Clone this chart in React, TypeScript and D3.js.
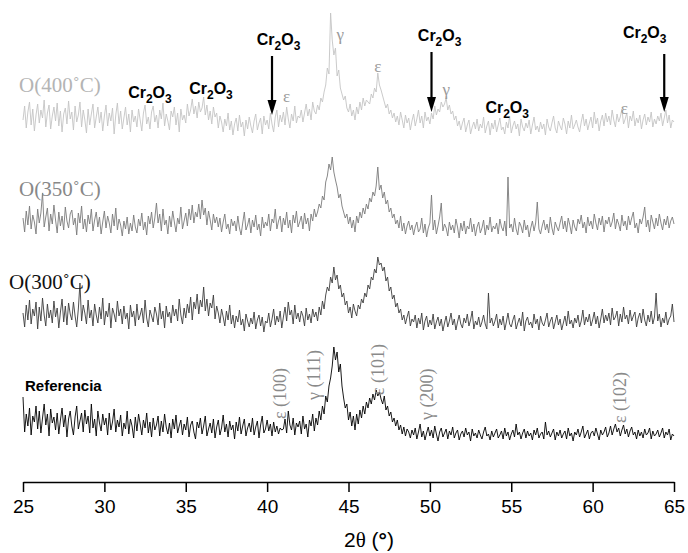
import { useEffect, useRef } from "react";
import * as d3 from "d3";

const W = 688;
const H = 553;

// 2θ grid: 25° .. 65°, 0.1° step (401 points), one row per degree
const THETA_START = 25;
const THETA_STEP = 0.1;

// intensities (a.u.)
const REFERENCIA = [
  47, 12, 30, 18, 36, 9, 28, 22, 38, 15,
  33, 11, 26, 40, 19, 30, 8, 35, 21, 27,
  14, 31, 10, 24, 36, 17, 29, 7, 25, 33,
  18, 9, 27, 38, 15, 23, 31, 12, 34, 20,
  28, 11, 40, 16, 25, 8, 33, 21, 13, 30,
  19, 26, 9, 31, 14, 22, 35, 12, 24, 17,
  29, 8, 21, 15, 33, 10, 25, 18, 6, 27,
  13, 30, 20, 9, 24, 16, 31, 11, 22, 7,
  26, 14, 19, 28, 8, 23, 12, 30, 17, 10,
  21, 6, 25, 15, 29, 11, 18, 24, 9, 20,
  14, 27, 7, 19, 23, 12, 5, 22, 16, 26,
  10, 18, 28, 8, 15, 21, 11, 25, 6, 17,
  24, 9, 16, 29, 12, 20, 7, 23, 14, 19,
  5, 22, 13, 27, 10, 18, 25, 8, 16, 21,
  12, 26, 9, 17, 23, 6, 19, 28, 11, 15,
  24, 13, 20, 8, 22, 12, 18, 10, 16, 14,
  15, 25, 11, 33, 19, 14, 26, 9, 21, 17,
  23, 10, 28, 15, 20, 7, 24, 18, 30, 13,
  26, 19, 33, 24, 38, 30, 48, 42, 58, 66,
  78, 97, 84, 92, 72, 80, 58, 46, 36, 40,
  24, 32, 18, 28, 14, 30, 20, 34, 26, 38,
  30, 42, 36, 46, 40, 50, 44, 54, 48, 52,
  45, 40, 48, 34, 38, 28, 32, 22, 26, 18,
  24, 14, 19, 10, 17, 8, 15, 12, 6, 14,
  9, 16, 5, 12, 20, 7, 13, 4, 11, 17,
  8, 14, 6, 18, 10, 3, 12, 16, 7, 11,
  15, 5, 13, 9, 17, 6, 11, 14, 4, 10,
  13, 7, 16, 9, 12, 3, 15, 8, 11, 6,
  14, 9, 5, 12, 17, 8, 10, 4, 13, 7,
  11, 15, 6, 9, 13, 5, 16, 8, 12, 4,
  10, 14, 7, 20, 9, 12, 5, 11, 15, 6,
  13, 8, 11, 4, 14, 9, 16, 6, 10, 12,
  5, 22, 9, 13, 7, 11, 15, 4, 12, 8,
  14, 6, 10, 13, 5, 16, 8, 11, 3, 12,
  9, 15, 7, 12, 18, 6, 10, 14, 5, 11,
  13, 8, 16, 10, 4, 14, 9, 12, 17, 7,
  11, 18, 9, 15, 20, 12, 16, 8, 14, 19,
  10, 15, 7, 13, 17, 9, 12, 5, 14, 8,
  12, 6, 15, 9, 11, 16, 5, 13, 8, 10,
  14, 7, 11, 16, 6, 12, 9, 15, 4, 10,
  8,
];

const O300 = [
  22, 8, 30, 15, 35, 11, 26, 19, 33, 6,
  28, 14, 37, 20, 9, 31, 17, 25, 12, 34,
  18, 27, 7, 23, 36, 13, 29, 10, 32, 21,
  15, 33, 19, 8, 26, 52, 14, 30, 22, 11,
  35, 17, 25, 9, 31, 20, 12, 28, 16, 37,
  10, 24, 18, 32, 7, 27, 21, 13, 34, 19,
  26, 11, 29, 16, 22, 6, 30, 18, 24, 9,
  31, 15, 20, 27, 12, 35, 17, 8, 25, 19,
  13, 28, 21, 10, 32, 16, 24, 7, 29, 18,
  23, 12, 30, 19, 26, 14, 36, 20, 11, 27,
  17, 31, 22, 38, 15, 33, 26, 41, 21, 35,
  28, 48, 24, 36, 19, 32, 27, 40, 16, 29,
  22, 12, 26, 18, 9, 24, 15, 30, 11, 20,
  7, 19, 13, 25, 10, 16, 4, 21, 14, 8,
  17, 11, 23, 6, 15, 20, 9, 18, 3, 14,
  12, 22, 8, 16, 26, 10, 19, 13, 24, 7,
  18, 28, 14, 33, 20, 25, 11, 30, 16, 22,
  13, 24, 19, 9, 27, 15, 21, 12, 26, 18,
  23, 14, 28, 20, 34, 26, 40, 48, 44, 58,
  52, 68, 55, 60, 46, 50, 38, 42, 30, 34,
  22, 28, 17, 31, 24, 19, 30, 26, 36, 32,
  42, 38, 50, 46, 58, 55, 66, 62, 78, 70,
  72, 64, 68, 54, 58, 44, 48, 36, 40, 28,
  32, 22, 26, 15, 20, 11, 18, 24, 9, 16,
  13, 20, 7, 17, 11, 22, 5, 14, 19, 8,
  15, 10, 21, 6, 13, 18, 9, 16, 4, 12,
  19, 8, 14, 22, 10, 16, 5, 13, 20, 11,
  7, 17, 12, 21, 9, 15, 24, 6, 14, 10,
  18, 8, 13, 20, 11, 6, 42, 12, 17, 9,
  14, 21, 7, 16, 10, 19, 5, 13, 22, 11,
  8, 15, 20, 6, 12, 17, 9, 23, 4, 14,
  18, 10, 13, 7, 21, 11, 16, 5, 19, 12,
  9, 15, 22, 8, 14, 18, 6, 13, 20, 10,
  16, 5, 12, 19, 9, 24, 11, 15, 7, 17,
  12, 20, 8, 14, 25, 10, 18, 13, 21, 9,
  15, 23, 11, 19, 7, 16, 26, 12, 20, 14,
  22, 10, 27, 15, 18, 24, 9, 21, 13, 28,
  16, 20, 11, 25, 14, 19, 23, 8, 17, 22,
  12, 26, 15, 9, 20, 13, 24, 11, 18, 42,
  14, 21, 8, 17, 12, 23, 10, 16, 19, 31,
  13,
];

const O350 = [
  24, 10, 31, 17, 36, 13, 27, 20, 8, 33,
  19, 29, 49, 15, 25, 34, 11, 28, 18, 37,
  22, 9, 30, 16, 26, 12, 35, 21, 14, 28,
  32, 17, 24, 7, 29, 19, 36, 13, 23, 10,
  27, 18, 33, 11, 22, 30, 15, 25, 8, 20,
  31, 14, 26, 19, 9, 28, 16, 34, 12, 23,
  17, 6, 21, 13, 25, 8, 19, 11, 27, 15,
  9, 23, 16, 29, 12, 20, 7, 26, 18, 30,
  14, 24, 39, 19, 28, 11, 33, 17, 22, 8,
  26, 15, 31, 20, 10, 24, 18, 35, 13, 21,
  29, 16, 33, 22, 37, 19, 30, 25, 38, 23,
  42, 27, 34, 17, 31, 22, 12, 28, 19, 25,
  15, 24, 10, 20, 28, 13, 18, 8, 23, 16,
  21, 11, 26, 14, 7, 19, 30, 12, 17, 24,
  9, 22, 15, 27, 12, 18, 6, 25, 14, 20,
  16, 28, 11, 23, 19, 33, 13, 21, 26, 10,
  24, 17, 30, 14, 22, 9, 27, 19, 31, 15,
  20, 26, 13, 29, 18, 24, 11, 28, 21, 33,
  25, 30, 38, 34, 46, 42, 60, 66, 78, 72,
  85, 70, 62, 55, 44, 48, 36, 30, 24, 28,
  18, 25, 14, 22, 10, 26, 19, 30, 24, 34,
  28, 38, 33, 44, 40, 50, 46, 56, 75, 52,
  57, 44, 50, 38, 42, 30, 34, 24, 28, 18,
  22, 14, 26, 11, 19, 8, 16, 21, 12, 17,
  7, 15, 20, 10, 13, 24, 9, 18, 5, 14,
  19, 47, 12, 22, 8, 16, 25, 39, 11, 18,
  14, 6, 20, 12, 17, 9, 23, 15, 4, 19,
  11, 21, 8, 16, 13, 24, 10, 18, 6, 15,
  20, 9, 14, 22, 7, 17, 12, 25, 10, 16,
  13, 19, 8, 23, 15, 11, 21, 6, 65, 14,
  18, 10, 24, 13, 7, 20, 16, 9, 22, 12,
  17, 5, 14, 21, 11, 19, 40, 13, 8, 16,
  22, 12, 18, 9, 25, 14, 7, 20, 15, 11,
  19, 26, 13, 21, 10, 24, 17, 8, 22, 15,
  11, 23, 18, 27, 14, 20, 9, 25, 16, 21,
  13, 28, 19, 12, 24, 17, 26, 10, 22, 18,
  25, 15, 20, 29, 13, 23, 18, 11, 27, 16,
  21, 12, 26, 17, 24, 30, 14, 19, 9, 23,
  18, 25, 35, 15, 22, 10, 27, 20, 13, 24,
  16, 28, 19, 12, 23, 17, 26, 14, 21, 25,
  18,
];

const O400 = [
  20, 34, 12, 28, 38, 15, 31, 9, 25, 36,
  17, 30, 22, 40, 13, 27, 35, 11, 24, 33,
  19, 37, 14, 29, 8, 26, 32, 16, 39, 21,
  28, 10, 34, 18, 25, 38, 13, 30, 20, 7,
  31, 15, 26, 36, 12, 23, 33, 17, 28, 9,
  24, 35, 14, 27, 19, 32, 6, 25, 37, 16,
  29, 11, 22, 33, 15, 26, 8, 30, 18, 24,
  13, 31, 20, 9, 27, 35, 16, 23, 11, 28,
  34, 18, 25, 12, 30, 21, 37, 14, 26, 19,
  10, 29, 23, 33, 15, 27, 8, 31, 20, 25,
  17, 36, 24, 30, 41, 26, 34, 22, 38, 28,
  32, 43, 25, 35, 20, 29, 16, 33, 23, 27,
  12, 24, 18, 8, 21, 14, 27, 10, 19, 5,
  16, 22, 9, 25, 13, 18, 4, 20, 11, 23,
  14, 7, 19, 26, 10, 17, 22, 6, 24, 15,
  20, 11, 27, 16, 8, 23, 30, 13, 25, 18,
  28, 15, 33, 21, 12, 26, 19, 34, 17, 24,
  22, 30, 18, 27, 36, 24, 31, 20, 38, 29,
  26, 35, 30, 42, 38, 48, 55, 72, 66, 127,
  100, 85, 92, 64, 70, 52, 46, 40, 44, 32,
  28, 36, 24, 30, 20, 33, 26, 38, 30, 42,
  34, 40, 38, 36, 46, 42, 52, 48, 67, 55,
  50, 44, 38, 32, 36, 26, 30, 22, 27, 18,
  24, 15, 28, 20, 12, 25, 17, 22, 10, 19,
  26, 14, 21, 30, 17, 24, 12, 28, 19, 23,
  16, 27, 21, 34, 25, 31, 28, 38, 33, 36,
  42, 30, 35, 26, 29, 20, 24, 14, 19, 10,
  17, 22, 8, 15, 20, 6, 13, 18, 11, 21,
  9, 16, 12, 23, 7, 14, 19, 5, 17, 11,
  20, 8, 15, 22, 10, 13, 6, 18, 12, 24,
  7, 14, 19, 11, 16, 4, 21, 13, 9, 17,
  12, 20, 6, 15, 23, 10, 14, 8, 18, 11,
  16, 5, 21, 13, 9, 17, 24, 12, 7, 19,
  14, 10, 22, 16, 6, 19, 12, 25, 11, 15,
  20, 13, 8, 18, 26, 14, 21, 10, 17, 23,
  12, 28, 16, 22, 9, 19, 25, 14, 27, 18,
  24, 15, 30, 20, 13, 26, 18, 23, 31, 16,
  21, 27, 12, 24, 19, 29, 14, 22, 17, 25,
  11, 20, 26, 15, 23, 18, 28, 13, 21, 16,
  24, 19, 27, 14, 22, 30, 17, 25, 12, 20,
  18,
];

// stacking offsets (a.u.) for each pattern
const SERIES = [
  { name: "Referencia", values: REFERENCIA, offset: 38, color: "#000000" },
  { name: "O(300˚C)", values: O300, offset: 147, color: "#3c3c3c" },
  { name: "O(350˚C)", values: O350, offset: 240, color: "#7a7a7a" },
  { name: "O(400˚C)", values: O400, offset: 342, color: "#c4c4c4" },
];

const MAJOR_TICKS = [25, 30, 35, 40, 45, 50, 55, 60, 65];
const MINOR_TICKS = [27.5, 32.5, 37.5, 42.5, 47.5, 52.5, 57.5, 62.5];

// Cr2O3 labels on the top pattern: 2θ of label centre, baseline y
const CR_LABELS = [
  { t: 32.8, y: 98 },
  { t: 36.55, y: 94 },
  { t: 40.7, y: 45 },
  { t: 50.6, y: 41 },
  { t: 54.75, y: 113 },
  { t: 63.2, y: 38 },
];
const CR_ARROWS = [
  { t: 40.3, y1: 56, y2: 115 },
  { t: 50.1, y1: 52, y2: 112 },
  { t: 64.4, y1: 54, y2: 112 },
];
const PHASE_MARKS = [
  { t: 44.5, y: 40, label: "γ" },
  { t: 41.2, y: 102, label: "ε" },
  { t: 46.8, y: 72, label: "ε" },
  { t: 51.0, y: 95, label: "γ" },
  { t: 61.95, y: 114, label: "ε" },
];
const HKL_MARKS = [
  { t: 40.8, bottom: 419, label: "ε (100)" },
  { t: 42.85, bottom: 400, label: "γ (111)" },
  { t: 46.8, bottom: 395, label: "ε (101)" },
  { t: 49.85, bottom: 420, label: "γ (200)" },
  { t: 61.7, bottom: 423, label: "ε (102)" },
];
const SAMPLE_LABELS = [
  { text: "O(400˚C)", x: 19, y: 92, color: "#b4b4b4", serif: true },
  { text: "O(350˚C)", x: 19, y: 196, color: "#888888", serif: true },
  { text: "O(300˚C)", x: 9, y: 289, color: "#111111", serif: true },
  { text: "Referencia", x: 25, y: 391, color: "#000000", serif: false },
];

const SANS = "'Liberation Sans', Arial, sans-serif";
const SERIF = "'Liberation Serif', 'Times New Roman', serif";

export default function App() {
  const svgRef = useRef<SVGSVGElement | null>(null);

  useEffect(() => {
    if (!svgRef.current) return;
    const svg = d3.select(svgRef.current);
    svg.selectAll("*").remove();

    const x = d3.scaleLinear().domain([25, 65]).range([23, 674]);
    const y = d3.scaleLinear().domain([0, 470]).range([482, 12]);

    // ── patterns ───────────────────────────────────────────────────────────
    for (const s of SERIES) {
      const line = d3.line<number>()
        .x((_, i) => x(THETA_START + i * THETA_STEP))
        .y(v => y(s.offset + v));
      svg.append("path")
        .attr("d", line(s.values))
        .attr("fill", "none")
        .attr("stroke", s.color)
        .attr("stroke-width", 0.9)
        .attr("stroke-linejoin", "miter");
    }

    // ── axis ───────────────────────────────────────────────────────────────
    const gx = svg.append("g").attr("transform", "translate(0,482)");
    gx.call(d3.axisBottom(x).tickValues(MINOR_TICKS).tickSize(5).tickSizeOuter(0).tickFormat(() => ""));
    gx.call(d3.axisBottom(x).tickValues(MAJOR_TICKS).tickSize(10).tickSizeOuter(0).tickPadding(8).tickFormat(d3.format("d")));
    gx.selectAll("path.domain").attr("stroke", "#000").attr("stroke-width", 1.5);
    gx.selectAll("line").attr("stroke", "#000").attr("stroke-width", 1.5);
    gx.selectAll("text")
      .attr("fill", "#000").attr("font-size", 19).attr("font-family", SANS);

    const title = svg.append("text")
      .attr("x", 369).attr("y", 547)
      .attr("text-anchor", "middle")
      .attr("font-size", 21).attr("fill", "#000");
    title.append("tspan").attr("font-family", SANS).text("2");
    title.append("tspan").attr("font-family", SERIF).text("θ");
    title.append("tspan").attr("font-family", SANS).text(" (");
    title.append("tspan").attr("font-family", SANS).attr("font-weight", 700).text("°");
    title.append("tspan").attr("font-family", SANS).text(")");

    // ── sample labels ──────────────────────────────────────────────────────
    for (const l of SAMPLE_LABELS) {
      svg.append("text")
        .attr("x", l.x).attr("y", l.y)
        .attr("fill", l.color)
        .attr("font-family", l.serif ? SERIF : SANS)
        .attr("font-size", l.serif ? 21 : 15)
        .attr("font-weight", l.serif ? 400 : 700)
        .text(l.text);
    }

    // ── Cr2O3 labels + arrows ──────────────────────────────────────────────
    for (const c of CR_LABELS) {
      const t = svg.append("text")
        .attr("x", x(c.t)).attr("y", c.y)
        .attr("text-anchor", "middle")
        .attr("font-family", SANS).attr("font-weight", 700)
        .attr("font-size", 16).attr("fill", "#000");
      t.append("tspan").text("Cr");
      t.append("tspan").attr("font-size", 12).attr("dy", 5).text("2");
      t.append("tspan").attr("dy", -5).text("O");
      t.append("tspan").attr("font-size", 12).attr("dy", 5).text("3");
    }
    for (const a of CR_ARROWS) {
      const ax = x(a.t);
      svg.append("line")
        .attr("x1", ax).attr("x2", ax)
        .attr("y1", a.y1).attr("y2", a.y2 - 10)
        .attr("stroke", "#000").attr("stroke-width", 2.2);
      svg.append("path")
        .attr("d", `M${ax - 4.5},${a.y2 - 15}L${ax + 4.5},${a.y2 - 15}L${ax},${a.y2}Z`)
        .attr("fill", "#000");
    }

    // ── phase marks on the top pattern ─────────────────────────────────────
    for (const p of PHASE_MARKS) {
      svg.append("text")
        .attr("x", x(p.t)).attr("y", p.y)
        .attr("text-anchor", "middle")
        .attr("font-family", SERIF).attr("font-size", 17)
        .attr("fill", "#9a9a9a")
        .text(p.label);
    }

    // ── hkl labels on the reference pattern ────────────────────────────────
    for (const h of HKL_MARKS) {
      const hx = x(h.t) + 6;
      svg.append("text")
        .attr("transform", `translate(${hx},${h.bottom}) rotate(-90)`)
        .attr("font-family", SERIF).attr("font-size", 18)
        .attr("fill", "#8a8a8a")
        .text(h.label);
    }
  }, []);

  return (
    <svg
      ref={svgRef}
      width={W}
      height={H}
      viewBox={`0 0 ${W} ${H}`}
      style={{ position: "absolute", left: 0, top: 0, background: "#fff", display: "block" }}
    />
  );
}
